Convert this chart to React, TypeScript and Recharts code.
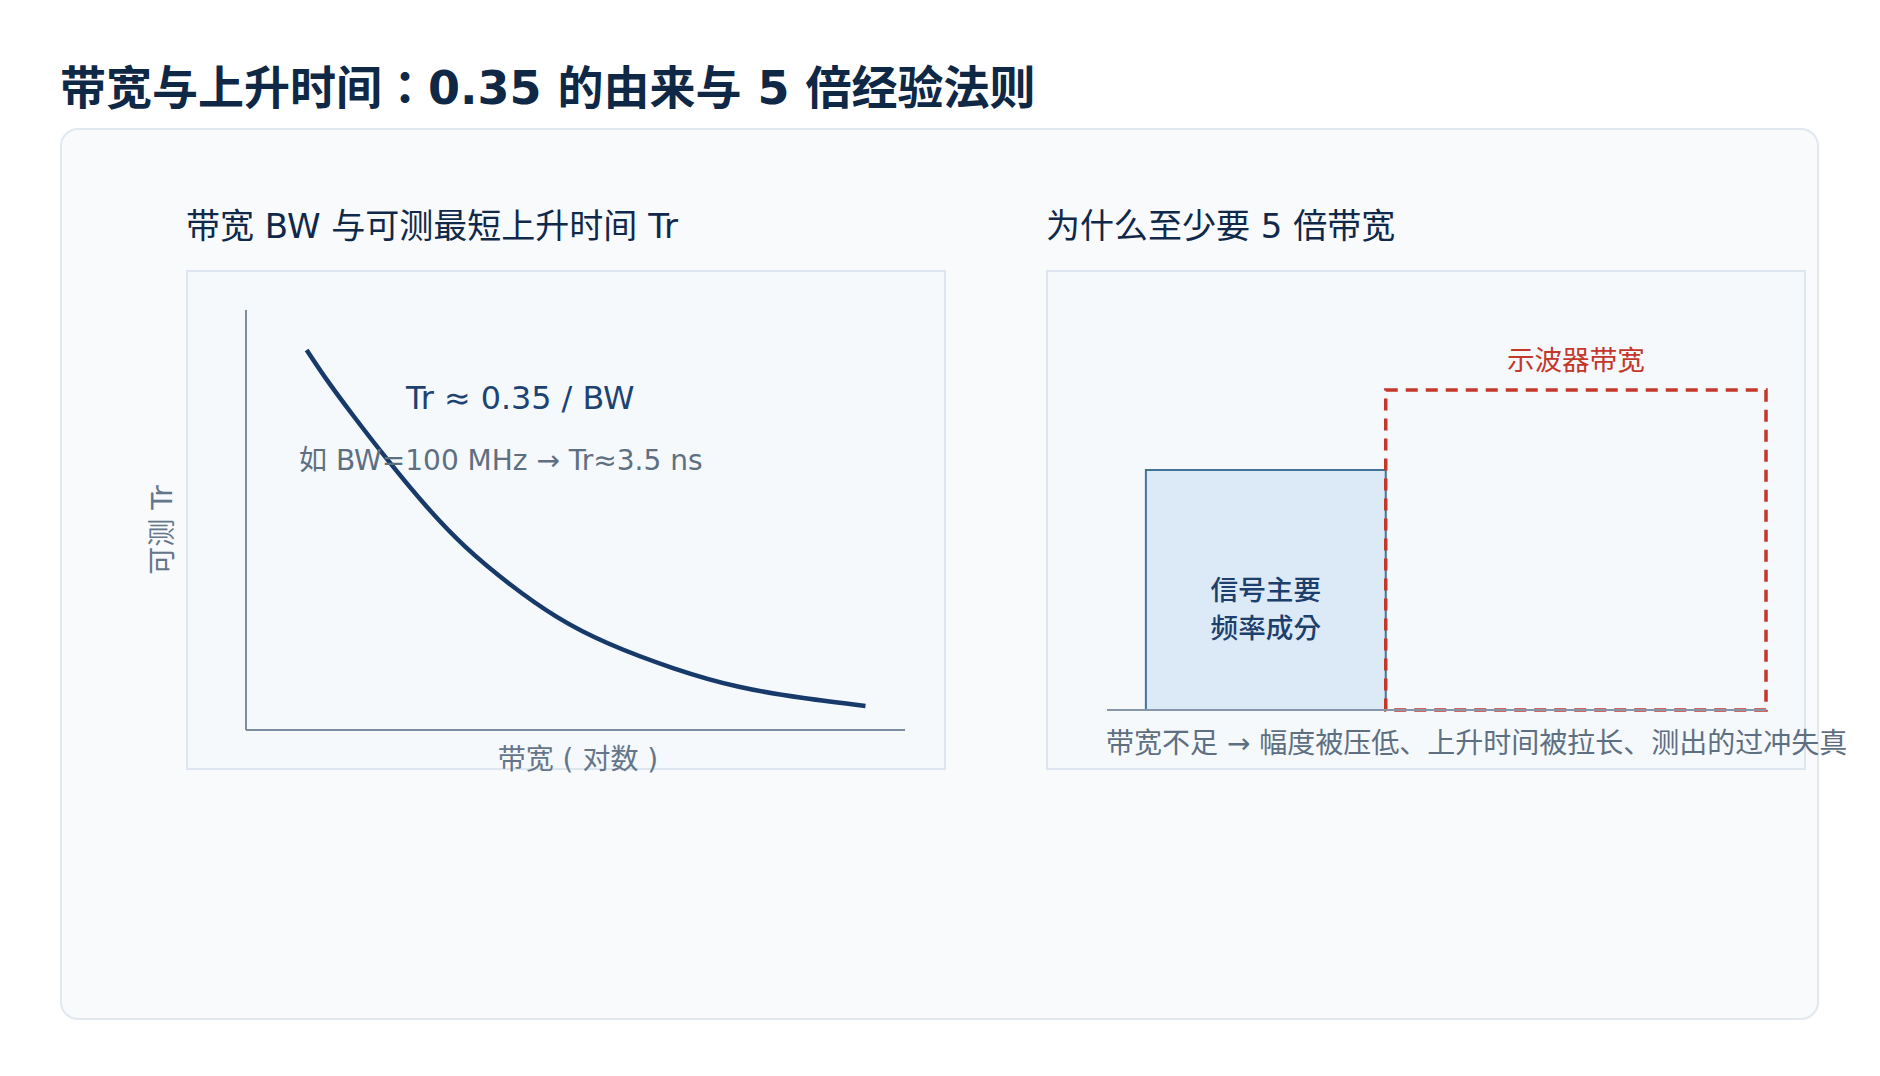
import React from 'react';
import { LineChart, Line, XAxis, YAxis, ComposedChart, ReferenceArea } from 'recharts';

// left chart: curve (bandwidth on a log axis, 0..100 of the axis; Tr 0..100 of the axis)
const bwLog = [9.2, 12.3, 16.2, 21.5, 27.4, 33.3, 39.9, 47.1, 55.0, 64.9, 74.8, 84.6, 94.0];
const trValues = [90.5, 83.3, 75.0, 64.3, 53.2, 43.6, 34.9, 27.0, 20.6, 14.7, 10.3, 7.6, 5.7];

// right chart: frequency bands (0..100 along the baseline) and their heights
const bandNames = ['信号主要频率成分', '示波器带宽'];
const bandStart = [5.9, 42.3];
const bandEnd = [42.3, 100];
const bandHeight = [60, 80];

const curveData = bwLog.map((bw, i) => ({ bw, tr: trValues[i] }));
// invisible helper series so both axes get a domain
const bandData = [
  { f: 0, h: 0 },
  ...bandEnd.map((e, i) => ({ f: e, h: bandHeight[i] })),
];

const FONT = '"DejaVu Sans", "Noto Sans CJK KR", "Noto Sans CJK SC", sans-serif';

const BandCaption = (props: any) => {
  const { viewBox, lines, color, mode } = props;
  if (!viewBox) return null;
  const { x, y, width, height } = viewBox;
  const cx = x + width / 2;
  if (mode === 'top') {
    return (
      <text x={cx} y={y - 20} textAnchor="middle" fill={color} fontSize={27.6} fontFamily={FONT}>
        {lines[0]}
      </text>
    );
  }
  const base = y + height / 2 + 10;
  return (
    <text textAnchor="middle" fill={color} fontSize={27.6} fontFamily={FONT} fontWeight={500}>
      {lines.map((l: string, i: number) => (
        <tspan key={i} x={cx} y={base + i * 38}>{l}</tspan>
      ))}
    </text>
  );
};

export default function App() {
  return (
    <div style={{ position: 'absolute', left: 0, top: 0, width: 1880, height: 1076, background: '#ffffff', fontFamily: FONT }}>
      {/* card */}
      <div style={{
        position: 'absolute', left: 60, top: 128, width: 1759, height: 892,
        background: '#f8fafc', border: '2px solid #e2e8f0', borderRadius: 18, boxSizing: 'border-box',
      }} />
      {/* panel boxes */}
      <div style={{ position: 'absolute', left: 186, top: 270, width: 760, height: 500, background: '#f5f9fc', border: '2px solid #dde5ee', boxSizing: 'border-box' }} />
      <div style={{ position: 'absolute', left: 1046, top: 270, width: 760, height: 500, background: '#f5f9fc', border: '2px solid #dde5ee', boxSizing: 'border-box' }} />

      {/* left chart */}
      <div style={{ position: 'absolute', left: 186, top: 270 }}>
        <LineChart width={760} height={500} data={curveData} margin={{ top: 40, right: 41, left: 0, bottom: 0 }}>
          <XAxis dataKey="bw" type="number" domain={[0, 100]} tick={false} tickLine={false} height={40}
            axisLine={{ stroke: '#7d8ca0', strokeWidth: 2 }} />
          <YAxis type="number" domain={[0, 100]} tick={false} tickLine={false} width={60}
            axisLine={{ stroke: '#7d8ca0', strokeWidth: 2 }} />
          <Line type="natural" dataKey="tr" stroke="#173a6a" strokeWidth={4.5} dot={false} isAnimationActive={false} />
        </LineChart>
      </div>

      {/* right chart */}
      <div style={{ position: 'absolute', left: 1046, top: 270 }}>
        <ComposedChart width={760} height={500} data={bandData} margin={{ top: 40, right: 40, left: 61, bottom: 0 }}>
          <XAxis dataKey="f" type="number" domain={[0, 100]} tick={false} tickLine={false} height={60}
            axisLine={{ stroke: '#8796a8', strokeWidth: 2 }} />
          <YAxis type="number" domain={[0, 100]} hide />
          <Line dataKey="h" stroke="none" dot={false} activeDot={false} isAnimationActive={false} />
          <ReferenceArea x1={bandStart[0]} x2={bandEnd[0]} y1={0} y2={bandHeight[0]} ifOverflow="visible"
            fill="#dce9f6" fillOpacity={1} stroke="#44739a" strokeWidth={2}
            label={<BandCaption lines={['信号主要', '频率成分']} color="#1c3f6c" mode="center" />} />
          <ReferenceArea x1={bandStart[1]} x2={bandEnd[1]} y1={0} y2={bandHeight[1]} ifOverflow="visible"
            fill="none" fillOpacity={0} stroke="#c4372b" strokeWidth={3.5} strokeDasharray="12 8"
            label={<BandCaption lines={[bandNames[1]]} color="#c4372b" mode="top" />} />
        </ComposedChart>
      </div>

      {/* text overlay */}
      <svg width={1880} height={1076} style={{ position: 'absolute', left: 0, top: 0, pointerEvents: 'none' }}>
        <text x={60} y={104} fontSize={46} fontWeight={700} fill="#0f2846" fontFamily={FONT}>
          带宽与上升时间：0.35 的由来与 5 倍经验法则
        </text>
        <text x={186} y={238} fontSize={34} fill="#10294a" fontFamily={FONT}>带宽 BW 与可测最短上升时间 Tr</text>
        <text x={1046} y={238} fontSize={34} fill="#10294a" fontFamily={FONT}>为什么至少要 5 倍带宽</text>

        <text x={406} y={409} fontSize={31.8} fill="#1d4373" fontFamily={FONT}>Tr ≈ 0.35 / BW</text>
        <text x={299} y={470} fontSize={28} fill="#5f6f82" fontFamily={FONT}>如 BW=100 MHz → Tr≈3.5 ns</text>

        <text x={578} y={769} textAnchor="middle" fontSize={28} fill="#66768a" fontFamily={FONT} xmlSpace="preserve">
          {'带宽 ( 对数 )'}
        </text>
        <text transform="translate(172 530) rotate(-90)" textAnchor="middle" fontSize={28} fill="#66768a" fontFamily={FONT}>可测 Tr</text>

        <text x={1106} y={753} fontSize={28} fill="#5f6f82" fontFamily={FONT}>
          带宽不足 → 幅度被压低、上升时间被拉长、测出的过冲失真
        </text>
      </svg>
    </div>
  );
}
